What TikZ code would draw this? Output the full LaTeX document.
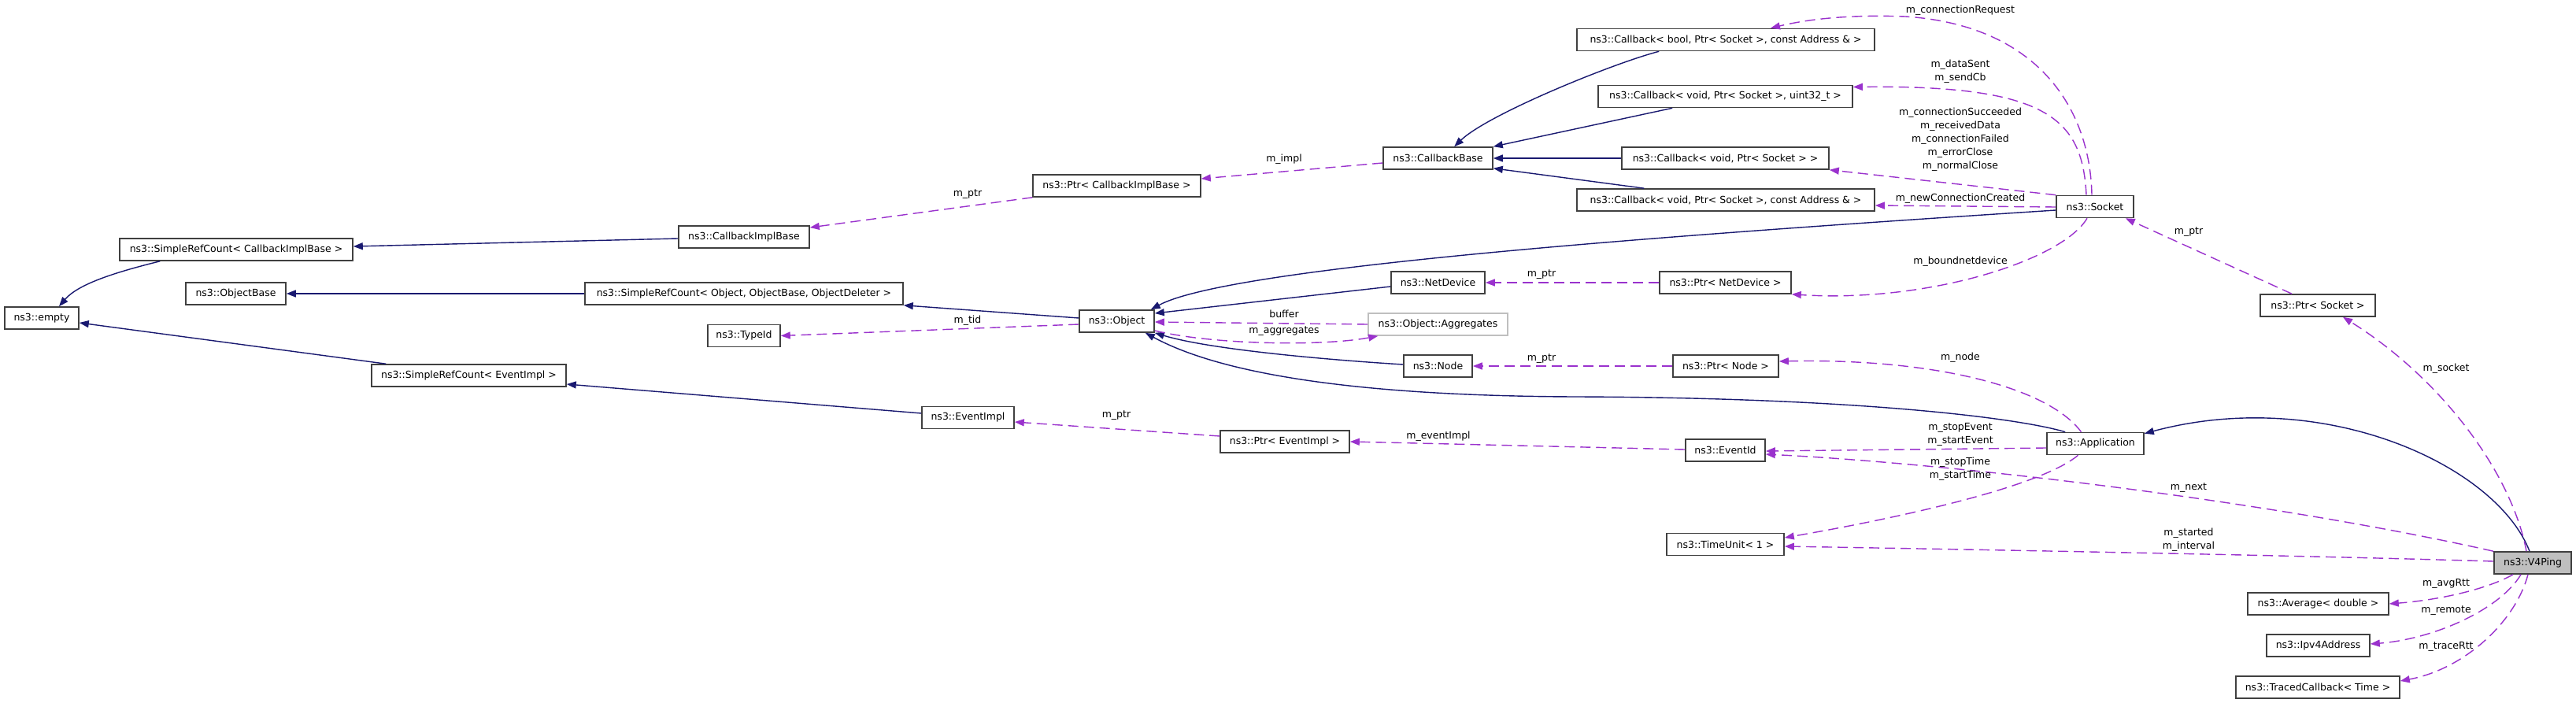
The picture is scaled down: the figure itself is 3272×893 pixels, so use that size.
\documentclass[tikz,border=0pt]{standalone}
\usepackage{fontspec}
\setmainfont{DejaVu Sans}
\usetikzlibrary{arrows.meta,calc}
\definecolor{inhc}{HTML}{191970}
\definecolor{usec}{HTML}{9A32CD}
\definecolor{bordc}{HTML}{404040}
\begin{document}
\begin{tikzpicture}[x=1pt,y=-1pt,
  cls/.style={draw=bordc, line width=1.6pt, fill=white, inner sep=0pt, minimum height=28pt,
    font=\fontsize{12.5}{15}\selectfont, text=black},
  lbl/.style={inner sep=0pt, align=center, font=\fontsize{12.5}{17}\selectfont, text=black},
  inh/.style={draw=inhc, line width=1.4pt, -{Triangle[length=12pt,width=9pt,fill=inhc]}},
  use/.style={draw=usec, line width=1.4pt, dash pattern=on 13pt off 7pt,
    -{Triangle[length=12pt,width=9pt,fill=usec]}}]
\useasboundingbox (0,0) rectangle (3272,893);
\fill[white] (0,0) rectangle (3272,893);
% nodes
\node[cls, minimum width=94pt] (empty) at (53,404) {ns3::empty};
\node[cls, minimum width=296pt] (srccib) at (300,317) {ns3::SimpleRefCount< CallbackImplBase >};
\node[cls, minimum width=127pt] (objectbase) at (299.5,373) {ns3::ObjectBase};
\node[cls, minimum width=247pt] (srcei) at (595.5,477) {ns3::SimpleRefCount< EventImpl >};
\node[cls, minimum width=166pt] (cib) at (945,301) {ns3::CallbackImplBase};
\node[cls, minimum width=404pt] (srcobj) at (945,373) {ns3::SimpleRefCount< Object, ObjectBase, ObjectDeleter >};
\node[cls, minimum width=92pt] (typeid) at (945,426.5) {ns3::TypeId};
\node[cls, minimum width=117pt] (eventimpl) at (1229.5,530.5) {ns3::EventImpl};
\node[cls, minimum width=213pt] (ptrcib) at (1418.5,236) {ns3::Ptr< CallbackImplBase >};
\node[cls, minimum width=95pt] (object) at (1418.5,408) {ns3::Object};
\node[cls, minimum width=119pt] (netdevice) at (1826.5,359) {ns3::NetDevice};
\node[cls, draw=black!25, minimum width=177pt] (aggr) at (1826.5,412) {ns3::Object::Aggregates};
\node[cls, minimum width=87pt] (nodec) at (1826.5,465) {ns3::Node};
\node[cls, minimum width=164pt] (ptrei) at (1632,561) {ns3::Ptr< EventImpl >};
\node[cls, minimum width=139pt] (cbbase) at (1826.5,201) {ns3::CallbackBase};
\node[cls, minimum width=378pt] (cbbool) at (2192,50.5) {ns3::Callback< bool, Ptr< Socket >, const Address \& >};
\node[cls, minimum width=323pt] (cbuint) at (2191.5,122.5) {ns3::Callback< void, Ptr< Socket >, uint32\_t >};
\node[cls, minimum width=263pt] (cbvoid) at (2191.5,201) {ns3::Callback< void, Ptr< Socket > >};
\node[cls, minimum width=378pt] (cbaddr) at (2192,254) {ns3::Callback< void, Ptr< Socket >, const Address \& >};
\node[cls, minimum width=98pt] (socket) at (2661,262.5) {ns3::Socket};
\node[cls, minimum width=167pt] (ptrnd) at (2191.5,359) {ns3::Ptr< NetDevice >};
\node[cls, minimum width=134pt] (ptrnode) at (2192,465) {ns3::Ptr< Node >};
\node[cls, minimum width=101pt] (eventid) at (2191.5,572) {ns3::EventId};
\node[cls, minimum width=123pt] (app) at (2661.5,563.5) {ns3::Application};
\node[cls, minimum width=149pt] (timeunit) at (2191.5,691.5) {ns3::TimeUnit< 1 >};
\node[cls, minimum width=146pt] (ptrsock) at (2944,388) {ns3::Ptr< Socket >};
\node[cls, fill=black!25, minimum width=98.5pt] (v4ping) at (3217,715) {ns3::V4Ping};
\node[cls, minimum width=179pt] (avg) at (2944.5,767) {ns3::Average< double >};
\node[cls, minimum width=131pt] (ipv4) at (2944.5,820) {ns3::Ipv4Address};
\node[cls, minimum width=208pt] (traced) at (2944,873) {ns3::TracedCallback< Time >};
% inheritance edges
\draw[inh] ($(srccib.south west)+(52,0)$) .. controls (150,345) and (100,360) .. ($(empty.north)+(22,0)$);
\draw[inh] ($(srcei.north west)+(19,0)$) -- ($(empty.east)+(0,6)$);
\draw[inh] (srcobj.west) -- (objectbase.east);
\draw[inh] ($(cib.west)+(0,2)$) -- ($(srccib.east)+(0,-4)$);
\draw[inh] ($(object.west)+(0,-4)$) -- (srcobj.south east);
\draw[inh] ($(eventimpl.west)+(0,-5.5)$) -- ($(srcei.east)+(0,11)$);
\draw[inh] ($(cbbool.south west)+(105,0)$) .. controls (2050,80) and (1890,145) .. ($(cbbase.north west)+(91,0)$);
\draw[inh] ($(cbuint.south west)+(95,0)$) -- (cbbase.north east);
\draw[inh] (cbvoid.west) -- (cbbase.east);
\draw[inh] ($(cbaddr.north west)+(86,0)$) -- ($(cbbase.south east)+(0,-2)$);
\draw[inh] ($(socket.west)+(0,4.5)$) .. controls (2100,300) and (1560,340) .. ($(object.north east)+(-5,0)$);
\draw[inh] ($(netdevice.west)+(0,5)$) -- ($(object.east)+(0,-10)$);
\draw[inh] ($(nodec.west)+(0,-2)$) .. controls (1700,458) and (1540,445) .. (object.south east);
\draw[inh] ($(app.north west)+(24,0)$) .. controls (2560,530) and (2350,505) .. (2000,504) .. controls (1750,503) and (1560,480) .. ($(object.south east)+(-12,0)$);
\draw[inh] ($(v4ping.north)+(-4,0)$) .. controls (3170,590) and (2950,490) .. ($(app.north east)+(0,2)$);
% usage edges
\draw[use] (ptrcib.south west) -- ($(cib.east)+(0,-12)$);
\draw[use] ($(cbbase.west)+(0,6)$) -- ($(ptrcib.east)+(0,-9)$);
\draw[use] ($(socket.north)+(-4,0)$) .. controls (2655,140) and (2590,32) .. (2420,21) .. controls (2340,18) and (2290,26) .. ($(cbbool.north)+(57,0)$);
\draw[use] ($(socket.north)+(-11,0)$) .. controls (2645,150) and (2600,108) .. ($(cbuint.east)+(0,-12)$);
\draw[use] (socket.north west) -- (cbvoid.south east);
\draw[use] ($(socket.west)+(0,0.5)$) -- ($(cbaddr.east)+(0,7)$);
\draw[use] ($(socket.south)+(-10,0)$) .. controls (2620,330) and (2450,385) .. (ptrnd.south east);
\draw[use] (ptrnd.west) -- (netdevice.east);
\draw[use] (ptrnode.west) -- (nodec.east);
\draw[use] ($(app.north)+(-18,0)$) .. controls (2600,490) and (2450,455) .. ($(ptrnode.east)+(0,-6)$);
\draw[use] ($(app.west)+(0,5.5)$) -- ($(eventid.east)+(0,1)$);
\draw[use] (v4ping.north west) .. controls (2900,640) and (2500,590) .. ($(eventid.east)+(0,5)$);
\draw[use] ($(app.south)+(-22,0)$) .. controls (2590,620) and (2400,660) .. ($(timeunit.east)+(0,-8.5)$);
\draw[use] ($(v4ping.west)+(0,-2)$) .. controls (2900,705) and (2500,698) .. ($(timeunit.east)+(0,2.5)$);
\draw[use] ($(ptrsock.north)+(-33,0)$) -- ($(socket.south east)+(-11,0)$);
\draw[use] ($(v4ping.north)+(-8,0)$) .. controls (3190,600) and (3100,480) .. ($(ptrsock.south)+(32,0)$);
\draw[use] ($(v4ping.south)+(-25,0)$) .. controls (3160,748) and (3100,762) .. (avg.east);
\draw[use] ($(v4ping.south)+(-15,0)$) .. controls (3175,775) and (3090,812) .. ($(ipv4.east)+(0,-2)$);
\draw[use] ($(v4ping.south)+(-6,0)$) .. controls (3195,790) and (3130,850) .. ($(traced.east)+(0,-8)$);
\draw[use] ($(ptrei.west)+(0,-7)$) -- ($(eventimpl.east)+(0,5.5)$);
\draw[use] ($(eventid.west)+(0,-1)$) -- (ptrei.east);
\draw[use] ($(object.west)+(0,4)$) -- (typeid.east);
\draw[use] (aggr.west) -- ($(object.east)+(0,1)$);
\draw[use] ($(object.east)+(0,12)$) .. controls (1540,438) and (1680,440) .. ($(aggr.south west)+(13,0)$);
% labels
\node[lbl] (l01) at (1229,247) {m\_ptr};
\node[lbl] (l02) at (1229,407) {m\_tid};
\node[lbl] (l03) at (1631,202) {m\_impl};
\node[lbl] (l04) at (1631,399) {buffer};
\node[lbl] (l05) at (1631,421) {m\_aggregates};
\node[lbl] (l06) at (1418,528) {m\_ptr};
\node[lbl] (l07) at (1827,554) {m\_eventImpl};
\node[lbl] (l08) at (1958,349) {m\_ptr};
\node[lbl] (l09) at (1958,456) {m\_ptr};
\node[lbl] (l10) at (2490,13) {m\_connectionRequest};
\node[lbl] (l11) at (2490,91) {m\_dataSent\\m\_sendCb};
\node[lbl] (l12) at (2490,177.5) {m\_connectionSucceeded\\m\_receivedData\\m\_connectionFailed\\m\_errorClose\\m\_normalClose};
\node[lbl] (l13) at (2490,252) {m\_newConnectionCreated};
\node[lbl] (l14) at (2490,332) {m\_boundnetdevice};
\node[lbl] (l15) at (2490,454) {m\_node};
\node[lbl] (l16) at (2490,552) {m\_stopEvent\\m\_startEvent};
\node[lbl] (l17) at (2490,596) {m\_stopTime\\m\_startTime};
\node[lbl] (l18) at (2780,295) {m\_ptr};
\node[lbl] (l19) at (3107,468) {m\_socket};
\node[lbl] (l20) at (2780,620) {m\_next};
\node[lbl] (l21) at (2780,686) {m\_started\\m\_interval};
\node[lbl] (l22) at (3107,741) {m\_avgRtt};
\node[lbl] (l23) at (3107,776) {m\_remote};
\node[lbl] (l24) at (3107,821) {m\_traceRtt};
\end{tikzpicture}
\end{document}
